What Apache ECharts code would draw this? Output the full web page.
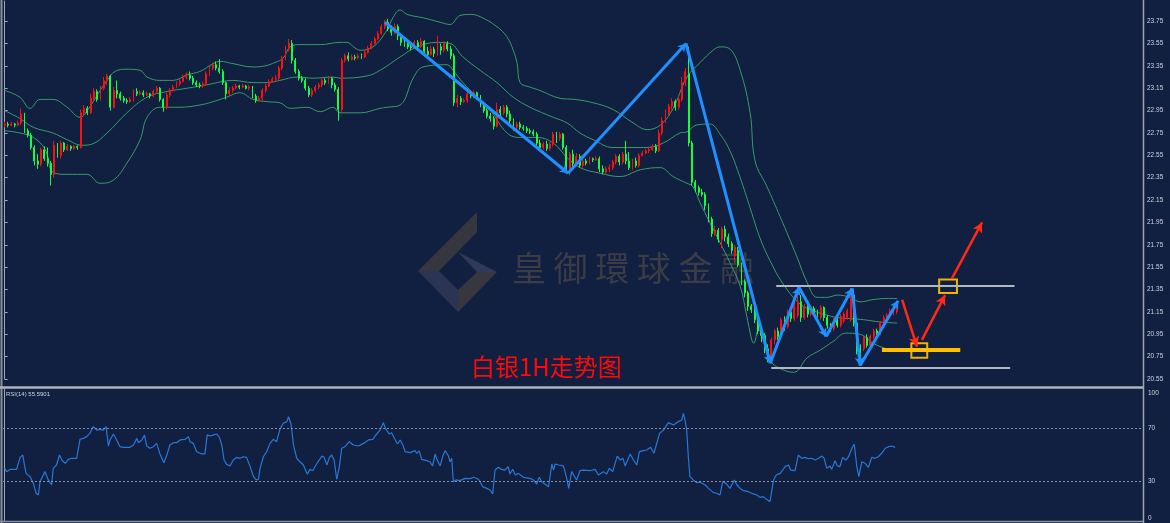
<!DOCTYPE html>
<html>
<head>
<meta charset="utf-8">
<script src="https://cdn.jsdelivr.net/npm/echarts@6/dist/echarts.min.js"></script>
<style>
html,body{margin:0;padding:0;background:#111f40;}
#c{width:1170px;height:523px;}
</style>
</head>
<body>
<div id="c"></div>
<script>
// ---------- DATA ----------
const slotCount = 345; // hourly slots on the time axis (incl. empty right margin)
const priceTicks = { min: 20.55, max: 23.93, step: 0.2 };
const rsiTicks = [0, 30, 70, 100];
const rsiLevels = [70, 30];
const currentPrice = 21.17;
const rsiTitle = 'RSI(14) 55.5901';
const chartTitle = '白银1H走势图';
const watermarkChars = ['皇','御','環','球','金','融'];

// OHLC as [open, close, low, high]
const candles = [
[22.82,22.83,22.80,22.85],[22.83,22.82,22.80,22.85],[22.82,22.83,22.81,22.85],[22.83,22.82,22.80,22.84],[22.82,22.84,22.81,22.86],
[22.84,22.92,22.82,22.97],[22.91,22.77,22.75,22.93],[22.77,22.73,22.71,22.79],[22.73,22.62,22.60,22.75],[22.62,22.50,22.46,22.64],
[22.50,22.47,22.43,22.56],[22.47,22.60,22.45,22.62],[22.60,22.52,22.50,22.63],[22.52,22.48,22.45,22.62],[22.48,22.38,22.28,22.50],
[22.38,22.64,22.35,22.68],[22.64,22.55,22.53,22.66],[22.55,22.66,22.52,22.68],[22.66,22.60,22.58,22.67],[22.60,22.63,22.59,22.65],
[22.63,22.61,22.59,22.64],[22.61,22.63,22.60,22.64],[22.63,22.62,22.60,22.64],[22.62,22.93,22.61,22.96],[22.93,22.97,22.90,23.00],
[22.97,22.93,22.91,22.99],[22.93,23.06,22.92,23.10],[23.06,23.12,23.04,23.15],[23.12,23.05,23.03,23.14],[23.05,23.15,23.04,23.17],
[23.15,23.22,23.13,23.25],[23.22,23.26,23.18,23.28],[23.26,22.98,22.95,23.27],[22.98,23.13,22.97,23.16],[23.13,23.10,23.06,23.22],
[23.10,23.06,23.04,23.12],[23.06,23.04,23.02,23.08],[23.04,23.03,23.01,23.06],[23.03,23.05,23.02,23.07],[23.05,23.12,23.03,23.14],
[23.12,23.10,23.08,23.15],[23.10,23.11,23.09,23.13],[23.11,23.09,23.07,23.13],[23.09,23.10,23.08,23.12],[23.10,23.08,23.06,23.11],
[23.08,23.12,23.07,23.14],[23.12,23.15,23.10,23.17],[23.15,23.05,23.03,23.16],[23.05,22.98,22.94,23.06],[22.98,23.09,22.96,23.11],
[23.09,23.13,23.07,23.15],[23.13,23.16,23.12,23.18],[23.16,23.19,23.15,23.21],[23.19,23.21,23.17,23.23],[23.21,23.25,23.20,23.27],
[23.25,23.27,23.23,23.29],[23.27,23.24,23.22,23.30],[23.24,23.20,23.18,23.26],[23.20,23.18,23.16,23.22],[23.18,23.17,23.15,23.20],
[23.17,23.19,23.15,23.21],[23.19,23.28,23.17,23.30],[23.28,23.33,23.26,23.35],[23.33,23.36,23.31,23.38],[23.36,23.33,23.31,23.39],
[23.33,23.30,23.28,23.41],[23.30,23.20,23.18,23.32],[23.20,23.10,23.05,23.21],[23.10,23.13,23.08,23.16],[23.13,23.15,23.11,23.17],
[23.15,23.17,23.14,23.19],[23.17,23.16,23.14,23.18],[23.16,23.17,23.15,23.19],[23.17,23.15,23.14,23.18],[23.15,23.16,23.13,23.18],
[23.16,23.08,23.06,23.17],[23.08,23.04,23.02,23.10],[23.04,23.06,23.03,23.08],[23.06,23.13,23.04,23.15],[23.13,23.17,23.11,23.19],
[23.17,23.21,23.16,23.23],[23.21,23.23,23.20,23.25],[23.23,23.24,23.21,23.27],[23.24,23.33,23.22,23.35],[23.33,23.42,23.31,23.44],
[23.42,23.50,23.40,23.53],[23.50,23.55,23.48,23.59],[23.55,23.40,23.37,23.58],[23.40,23.30,23.28,23.42],[23.30,23.24,23.22,23.32],
[23.24,23.22,23.20,23.26],[23.22,23.15,23.13,23.24],[23.15,23.09,23.07,23.17],[23.09,23.13,23.07,23.15],[23.13,23.16,23.11,23.18],
[23.16,23.18,23.14,23.20],[23.18,23.22,23.16,23.24],[23.22,23.20,23.18,23.24],[23.20,23.24,23.19,23.26],[23.24,23.18,23.15,23.25],
[23.18,23.14,23.12,23.20],[23.14,22.96,22.86,23.16],[22.96,23.40,22.94,23.42],[23.40,23.44,23.38,23.46],[23.44,23.41,23.39,23.47],
[23.41,23.43,23.40,23.45],[23.43,23.42,23.40,23.45],[23.42,23.44,23.41,23.46],[23.44,23.43,23.41,23.46],[23.43,23.47,23.42,23.49],
[23.47,23.51,23.46,23.53],[23.51,23.55,23.50,23.57],[23.55,23.59,23.54,23.61],[23.59,23.64,23.58,23.66],[23.64,23.70,23.63,23.72],
[23.70,23.74,23.68,23.76],[23.74,23.68,23.66,23.77],[23.68,23.65,23.62,23.71],[23.65,23.70,23.63,23.73],[23.70,23.62,23.58,23.72],
[23.62,23.56,23.53,23.64],[23.56,23.55,23.52,23.60],[23.55,23.52,23.50,23.57],[23.52,23.51,23.49,23.54],[23.51,23.56,23.50,23.58],
[23.56,23.52,23.50,23.58],[23.52,23.57,23.51,23.60],[23.57,23.48,23.46,23.58],[23.48,23.45,23.42,23.52],[23.45,23.50,23.44,23.53],
[23.50,23.46,23.43,23.52],[23.46,23.52,23.44,23.62],[23.52,23.49,23.45,23.55],[23.49,23.55,23.47,23.57],[23.55,23.50,23.48,23.57],
[23.50,23.44,23.41,23.53],[23.44,23.02,22.99,23.46],[23.02,23.06,22.98,23.09],[23.06,23.03,23.00,23.08],[23.03,23.04,23.02,23.06],
[23.04,23.10,23.02,23.12],[23.10,23.08,23.06,23.12],[23.08,23.11,23.06,23.13],[23.11,23.07,23.05,23.12],[23.07,23.00,22.98,23.09],
[23.00,22.95,22.93,23.03],[22.95,22.90,22.88,22.97],[22.90,22.88,22.85,22.93],[22.88,22.81,22.78,22.90],[22.81,22.96,22.80,23.02],
[22.96,22.93,22.90,22.99],[22.93,22.98,22.91,23.00],[22.98,22.92,22.89,23.00],[22.92,22.86,22.84,22.95],[22.86,22.80,22.77,22.88],
[22.80,22.83,22.78,22.85],[22.83,22.80,22.78,22.85],[22.80,22.79,22.77,22.82],[22.79,22.77,22.75,22.81],[22.77,22.76,22.74,22.79],
[22.76,22.74,22.72,22.78],[22.74,22.66,22.64,22.76],[22.66,22.62,22.60,22.69],[22.62,22.65,22.60,22.67],[22.65,22.61,22.59,22.68],
[22.61,22.65,22.59,22.67],[22.65,22.74,22.63,22.76],[22.74,22.70,22.66,22.76],[22.70,22.74,22.68,22.76],[22.74,22.62,22.60,22.75],
[22.62,22.42,22.39,22.64],[22.42,22.56,22.37,22.58],[22.56,22.48,22.45,22.60],[22.48,22.54,22.46,22.57],[22.54,22.46,22.44,22.56],
[22.46,22.50,22.44,22.52],[22.50,22.48,22.46,22.52],[22.48,22.52,22.47,22.54],[22.52,22.51,22.49,22.53],[22.51,22.52,22.50,22.54],
[22.52,22.43,22.40,22.54],[22.43,22.40,22.38,22.46],[22.40,22.43,22.38,22.45],[22.43,22.44,22.40,22.47],[22.44,22.49,22.42,22.51],
[22.49,22.54,22.47,22.56],[22.54,22.49,22.46,22.56],[22.49,22.56,22.47,22.58],[22.56,22.50,22.47,22.68],[22.50,22.44,22.42,22.58],
[22.44,22.50,22.42,22.52],[22.50,22.46,22.44,22.53],[22.46,22.55,22.44,22.57],[22.55,22.57,22.54,22.59],[22.57,22.59,22.56,22.61],
[22.59,22.60,22.57,22.62],[22.60,22.63,22.59,22.65],[22.63,22.59,22.57,22.65],[22.59,22.75,22.58,22.78],[22.75,22.86,22.73,22.89],
[22.86,22.93,22.84,22.96],[22.93,22.99,22.91,23.01],[22.99,23.03,22.96,23.06],[23.03,22.98,22.95,23.05],[22.98,23.05,22.96,23.08],
[23.05,23.20,23.03,23.25],[23.20,23.30,23.17,23.33],[23.28,22.66,22.63,23.52],[22.66,22.31,22.28,22.68],[22.31,22.26,22.22,22.33],
[22.26,22.22,22.19,22.28],[22.22,22.20,22.18,22.25],[22.20,22.10,22.06,22.22],[22.10,21.98,21.95,22.12],[21.98,21.85,21.82,22.00],
[21.85,21.88,21.83,21.92],[21.88,21.80,21.77,21.90],[21.80,21.89,21.72,21.91],[21.89,21.82,21.78,21.92],[21.82,21.76,21.73,21.85],
[21.76,21.70,21.67,21.78],[21.65,21.73,21.60,21.75],[21.70,21.57,21.55,21.73],[21.57,21.42,21.39,21.59],[21.42,21.32,21.28,21.44],
[21.32,21.20,21.16,21.34],[21.20,21.17,21.14,21.22],[21.17,21.08,21.05,21.19],[21.08,20.98,20.95,21.10],[20.98,20.94,20.88,21.02],
[20.94,20.82,20.78,20.96],[20.82,20.74,20.70,20.86],[20.74,20.90,20.69,20.92],[20.90,20.98,20.86,21.00],[20.98,20.93,20.90,21.01],
[20.95,21.08,20.91,21.10],[21.08,21.02,20.98,21.11],[21.02,21.15,21.00,21.17],[21.15,21.09,21.06,21.18],[21.09,21.22,21.07,21.24],
[21.12,21.24,21.10,21.38],[21.24,21.10,21.06,21.30],[21.10,21.20,21.08,21.22],[21.20,21.13,21.10,21.22],[21.13,21.18,21.11,21.20],
[21.18,21.14,21.12,21.20],[21.14,21.12,21.10,21.17],[21.10,21.19,21.08,21.21],[21.19,21.10,21.07,21.20],[21.10,21.03,21.00,21.12],
[21.03,21.00,20.97,21.05],[21.00,21.08,20.98,21.10],[21.08,21.03,21.01,21.11],[21.03,21.11,21.01,21.13],[21.07,21.13,21.05,21.15],
[21.10,21.16,21.08,21.18],[21.08,21.32,21.06,21.36],[21.30,21.05,21.02,21.33],[21.05,20.80,20.77,21.07],[20.80,20.78,20.67,20.86],
[20.82,20.92,20.80,20.94],[20.92,20.85,20.83,20.95],[20.85,20.93,20.82,20.95],[20.93,20.98,20.91,21.00],[20.98,20.96,20.94,21.00],
[20.96,21.05,20.94,21.07],[21.05,21.10,21.03,21.12],[21.10,21.12,21.08,21.14],[21.12,21.16,21.10,21.18],[21.14,21.17,21.12,21.20],
[21.15,21.17,21.13,21.19]
];

// Bollinger bands: [slot, price]
const bbUpper = [[0,23.13],[4.6,23.07],[7.7,22.97],[10.7,23.05],[14.6,23.05],[18.9,22.98],[22.8,22.89],[25,22.95],[28.9,23.13],[31,23.22],[33.4,23.30],[37,23.32],[41,23.31],[43.1,23.25],[47,23.22],[51,23.22],[55.2,23.27],[59.1,23.30],[63.1,23.37],[65.2,23.39],[69.1,23.37],[75.2,23.34],[78.8,23.35],[81.8,23.38],[84.3,23.42],[86.4,23.52],[89.4,23.54],[95.5,23.54],[101.5,23.56],[103.6,23.56],[106,23.51],[107.6,23.49],[111.5,23.52],[115.7,23.67],[117.5,23.78],[119.7,23.85],[121.8,23.81],[126.6,23.78],[131.8,23.74],[134.8,23.72],[137.8,23.80],[140.9,23.81],[143.9,23.79],[149,23.70],[152,23.61],[153.9,23.49],[155.1,23.37],[156,23.20],[159,23.16],[162,23.13],[168.1,23.06],[172.6,23.05],[178.1,23.02],[184.1,22.96],[190.2,22.84],[194.4,22.78],[198.4,22.82],[202.3,22.97],[206.5,23.25],[210.5,23.38],[214.4,23.49],[216.5,23.52],[219.5,23.50],[222.6,23.31],[225.6,22.93],[227.1,22.50],[230.7,22.27],[234.7,22.00],[239.8,21.64],[242.9,21.41],[245.9,21.28],[248.9,21.28],[252,21.30],[255.9,21.28],[258.9,21.24],[262.8,21.26],[267,21.27],[270.1,21.27]];
const bbMiddle = [[0,22.95],[4.6,22.88],[8.7,22.80],[14.6,22.75],[18.9,22.69],[23.4,22.64],[26.4,22.65],[31,22.75],[37,22.93],[43.1,23.07],[49,23.12],[55.2,23.15],[61.1,23.18],[66,23.21],[69.1,23.22],[75.2,23.20],[79.4,23.20],[83.3,23.22],[88.5,23.25],[93.3,23.24],[99.4,23.25],[101.5,23.24],[109.7,23.26],[113.6,23.31],[119.7,23.43],[124.8,23.52],[130.9,23.56],[134.8,23.55],[138.7,23.43],[143.9,23.31],[149,23.20],[153.9,23.07],[159,22.98],[166,22.89],[170.2,22.84],[174.1,22.75],[178.1,22.69],[184.1,22.62],[190.2,22.62],[194.4,22.62],[199.3,22.66],[204.4,22.75],[206.5,22.76],[209.3,22.82],[213.4,22.83],[216.5,22.74],[219.5,22.59],[222.6,22.35],[225.6,22.08],[228.6,21.81],[231.6,21.61],[235.6,21.40],[240.7,21.22],[244.8,21.16],[247.8,21.13],[252,21.10],[256,21.09],[260,21.08],[265,21.06],[270.1,21.05]];
const bbLower = [[0,22.77],[4.6,22.75],[8.7,22.71],[12.3,22.60],[14.6,22.40],[18.9,22.38],[24.9,22.38],[28.9,22.30],[33,22.33],[37,22.48],[41,22.69],[43.1,22.89],[47,22.98],[53.1,22.98],[59.1,23.00],[63.1,23.03],[67.2,23.07],[71.2,23.11],[75.2,23.05],[79.4,23.03],[83.3,23.02],[86.4,22.97],[91.5,22.98],[95.5,22.94],[99.4,22.98],[101.5,22.93],[107.6,22.93],[113.6,22.97],[115.7,22.98],[119.7,23.00],[123.8,23.25],[126.6,23.34],[133.9,23.36],[135.7,23.31],[138.7,23.20],[143,23.07],[146.9,22.96],[152,22.75],[156,22.71],[161.1,22.71],[166,22.66],[170.2,22.53],[174.1,22.44],[180.2,22.39],[186.2,22.36],[192.3,22.42],[198.4,22.44],[202.3,22.36],[206.5,22.30],[208.3,22.27],[210.4,22.13],[213.4,21.95],[216.5,21.77],[219.5,21.59],[222.6,21.38],[224.4,21.14],[226.1,20.90],[226.7,20.87],[228.2,20.99],[229.7,20.93],[231.8,20.72],[233.6,20.66],[238.8,20.61],[242.9,20.74],[246.9,20.81],[250.9,20.89],[254.5,20.96],[258.9,20.95],[262.8,20.87],[267,20.82],[270.1,20.81]];

// RSI(14): [slot, value]
const rsi = [[0,39.9],[0.6,37.4],[1.6,39.1],[3.6,39.1],[4.1,39.9],[4.7,48.2],[5.5,50.0],[5.9,43.7],[6.5,36.1],[7.7,33.6],[8.7,28.5],[9.5,21.0],[10.2,19.7],[10.7,29.8],[11.2,31.1],[12.2,37.4],[13.2,31.1],[14.2,27.3],[14.7,39.9],[15.7,42.4],[16.6,50.0],[17.3,46.2],[18.3,43.7],[19.3,46.7],[20.3,47.5],[21.8,47.5],[22.8,61.9],[23.8,62.6],[24.8,63.9],[25.8,66.4],[26.8,71.5],[27.9,68.9],[28.9,69.4],[29.9,68.9],[30.7,71.5],[31.4,56.8],[31.9,61.4],[32.9,65.9],[33.9,61.4],[34.9,56.3],[35.9,55.8],[37.9,55.8],[39.0,57.6],[40.0,62.6],[40.5,59.3],[41.5,61.4],[42.3,65.2],[43.0,56.8],[44.0,55.1],[45.0,56.3],[46.0,58.8],[47.0,50.8],[48.2,44.2],[49.0,49.2],[50.0,57.6],[51.1,59.3],[52.1,59.3],[53.1,61.4],[54.6,61.9],[55.6,63.9],[56.1,60.1],[57.1,58.8],[58.1,52.5],[59.6,50.8],[60.6,50.8],[61.3,65.2],[62.2,64.4],[63.2,65.2],[64.2,65.9],[65.0,63.4],[65.7,57.6],[66.4,46.2],[67.2,42.9],[68.2,41.7],[69.2,46.2],[70.2,48.2],[71.2,47.5],[72.2,48.7],[73.2,48.2],[74.3,41.2],[75.3,33.6],[76.1,31.1],[76.8,31.6],[77.3,39.9],[78.3,48.7],[79.3,52.5],[80.3,58.8],[81.3,61.9],[82.3,60.1],[83.3,69.4],[84.3,74.0],[85.4,75.3],[85.9,79.0],[86.6,74.0],[86.9,68.9],[87.4,57.6],[88.4,47.5],[89.4,44.9],
[90.4,42.4],[91.6,35.4],[92.4,39.1],[93.2,38.1],[94.4,43.2],[96.0,49.2],[96.7,48.2],[97.5,42.4],[98.3,48.2],[99.0,50.0],[99.7,46.2],[100.5,31.6],[101.3,41.2],[102.0,55.1],[103.0,56.3],[104.3,60.1],[105.5,57.6],[107.1,56.8],[108.6,58.8],[110.1,61.4],[111.4,61.9],[112.1,64.4],[113.6,68.9],[114.6,74.5],[115.4,69.4],[116.4,65.9],[117.1,66.9],[118.2,61.4],[118.9,58.3],[119.7,61.4],[120.5,57.6],[121.2,52.5],[122.7,51.8],[124.2,53.3],[124.7,51.3],[125.5,53.0],[126.2,46.7],[127.7,45.7],[128.7,44.9],[129.5,41.7],[130.3,50.8],[130.8,46.7],[131.8,41.7],[132.6,49.2],[133.3,53.3],[134.3,49.2],[134.8,44.9],[135.3,47.5],[135.8,29.8],[136.6,31.1],[137.8,30.6],[139.3,32.3],[140.9,32.1],[141.9,33.1],[143.4,31.6],[144.7,26.0],[145.9,24.7],[146.9,23.5],[147.7,20.5],[148.4,38.6],[149.4,40.7],[150.4,39.1],[151.4,38.6],[152.4,41.2],[152.9,35.6],[153.8,39.1],[154.5,34.8],[155.5,36.1],[157.0,33.1],[159.0,32.3],[160.0,31.1],[161.0,28.0],[161.8,33.1],[162.5,29.8],[163.5,28.0],[164.6,26.0],[165.1,26.5],[165.6,43.2],[166.1,38.6],[166.6,43.2],[167.6,42.4],[169.1,41.7],[170.1,32.3],[170.7,24.7],[171.6,37.4],[172.6,33.1],[173.1,31.1],[174.1,38.1],[175.1,38.6],[177.2,38.1],[178.7,39.1],[179.7,34.8],[180.2,33.6],
[181.2,37.4],[182.2,35.6],[183.0,39.9],[184.0,37.4],[185.4,49.2],[186.3,46.2],[187.1,47.5],[187.8,41.7],[189.3,50.8],[190.3,46.2],[191.3,42.4],[192.1,52.5],[193.3,53.3],[194.3,53.8],[195.5,55.8],[196.5,51.3],[198.2,66.4],[199.4,68.9],[200.9,74.5],[202.4,72.7],[203.9,75.3],[204.9,76.5],[205.4,81.6],[205.9,76.5],[206.4,68.9],[206.9,48.7],[207.4,33.6],[208.4,31.1],[209.5,29.0],[210.5,29.3],[212.0,27.3],[213.0,24.7],[214.5,21.5],[215.5,21.0],[216.5,19.7],[217.3,29.8],[218.3,28.5],[219.5,24.7],[220.8,31.1],[221.6,27.3],[222.6,24.7],[223.6,23.0],[225.1,22.2],[226.6,20.5],[227.6,19.7],[228.6,17.9],[229.6,18.4],[230.6,16.4],[231.6,14.6],[232.2,14.6],[232.7,31.1],[233.5,34.8],[234.7,36.1],[236.2,41.2],[237.2,42.4],[237.9,38.6],[239.2,38.1],[240.2,50.0],[241.2,47.5],[242.2,48.2],[243.2,47.2],[244.2,47.5],[245.3,46.2],[246.3,47.5],[247.3,49.2],[248.0,47.5],[248.8,39.9],[249.8,41.7],[250.3,39.1],[251.3,45.7],[252.0,41.7],[252.8,41.2],[253.6,48.2],[254.6,46.2],[255.4,48.7],[256.4,55.1],[257.1,58.3],[257.9,41.2],[258.5,33.6],[259.4,44.9],[260.4,43.7],[261.4,40.7],[262.4,48.2],[263.4,47.5],[264.4,48.7],[265.4,51.3],[266.5,55.1],[267.5,56.3],[268.5,56.8],[269.5,55.8]];

// Drawn annotations, in [slot, price]
const zigzag = [[115.1,23.74],[170.5,22.39],[206.2,23.55],[231.7,20.69],[240.4,21.37],[248.6,20.93],[256.5,21.36],[258.9,20.67],[270.4,21.25]];
const forecastArrows = [[[271.6,21.26],[276.1,20.84]],[[277.6,20.90],[284.6,21.30]],[[286.7,21.45],[295.8,21.95]]];
const rangeLines = [[[233.5,21.38],[305.6,21.38]],[[232.0,20.65],[304.3,20.65]]];
const supportLine = [[265.5,20.81],[289.2,20.81]];
const targetBoxes = [[[274.4,20.87],[279.2,20.74]],[[282.8,21.44],[288.2,21.32]]];

// ---------- CHART ----------
const chart = echarts.init(document.getElementById('c'), null, {renderer: 'canvas'});
const cats = Array.from({length: slotCount}, (_, i) => String(i));
const bandColor = '#3b9a6b';
const axisGray = '#9ea4b0';
const labelColor = '#cfd3dc';

function segs(points) {
  const out = [];
  for (let i = 0; i < points.length - 1; i++) out.push([{coord: points[i]}, {coord: points[i + 1]}]);
  return out;
}

const option = {
  backgroundColor: '#111f40',
  animation: false,
  grid: [
    {left: 3, right: 27, top: 1, height: 378},
    {left: 3, right: 27, top: 389, height: 132}
  ],
  xAxis: [
    {type: 'category', data: cats, gridIndex: 0, show: false, boundaryGap: true},
    {type: 'value', gridIndex: 0, min: -0.5, max: slotCount - 0.5, show: false},
    {type: 'value', gridIndex: 1, min: -0.5, max: slotCount - 0.5, show: false}
  ],
  yAxis: [
    {type: 'value', gridIndex: 0, position: 'right', min: priceTicks.min, max: priceTicks.max, interval: priceTicks.step, scale: true,
     splitLine: {show: false},
     axisLine: {show: true, lineStyle: {color: axisGray, width: 1}},
     axisTick: {show: true, length: 3, lineStyle: {color: axisGray}},
     axisLabel: {color: labelColor, fontSize: 6.5, fontFamily: 'Liberation Sans', margin: 4, showMaxLabel: false,
       formatter: v => v.toFixed(2)}},
    {type: 'value', gridIndex: 1, position: 'right', min: 0, max: 100, interval: 10,
     splitLine: {show: false},
     axisLine: {show: true, lineStyle: {color: axisGray, width: 1}},
     axisTick: {show: false},
     axisLabel: {color: labelColor, fontSize: 6.5, fontFamily: 'Liberation Sans', margin: 5,
       formatter: v => v === 100 ? '{t|100}' : v === 0 ? '{b|0}' : (rsiTicks.indexOf(v) >= 0 ? String(v) : ''),
       rich: {t: {padding: [8, 0, 0, 0], fontSize: 6.5, color: labelColor}, b: {padding: [0, 0, 6, 0], fontSize: 6.5, color: labelColor}}}}
  ],
  series: [
    {type: 'line', xAxisIndex: 1, yAxisIndex: 0, data: bbUpper, smooth: 0.4, symbol: 'none', lineStyle: {color: bandColor, width: 1}, silent: true, z: 1},
    {type: 'line', xAxisIndex: 1, yAxisIndex: 0, data: bbMiddle, smooth: 0.4, symbol: 'none', lineStyle: {color: bandColor, width: 1}, silent: true, z: 1},
    {type: 'line', xAxisIndex: 1, yAxisIndex: 0, data: bbLower, smooth: 0.4, symbol: 'none', lineStyle: {color: bandColor, width: 1}, silent: true, z: 1},
    {type: 'candlestick', xAxisIndex: 0, yAxisIndex: 0, data: candles, barWidth: 1.4, z: 3,
     itemStyle: {color: '#ff1010', color0: '#10ff40', borderColor: '#ff1010', borderColor0: '#10ff40', borderWidth: 1}},
    {type: 'line', xAxisIndex: 1, yAxisIndex: 0, data: [], symbol: 'none', z: 5,
     markLine: {silent: true, symbol: ['none', 'none'], label: {show: false}, animation: false,
       data: [
         ...rangeLines.map(s => [{coord: s[0], lineStyle: {color: '#b3b7c2', width: 2, type: 'solid'}}, {coord: s[1]}]),
         [{coord: supportLine[0], lineStyle: {color: '#ffbf00', width: 4, type: 'solid'}}, {coord: supportLine[1]}],
         [{yAxis: currentPrice, lineStyle: {opacity: 0}, label: {show: true, position: 'end', distance: 3, formatter: currentPrice.toFixed(2), color: '#000', backgroundColor: '#ffffff', padding: [1, 2, 0, 2], fontSize: 6.5, fontFamily: 'Liberation Sans'}}, {yAxis: currentPrice}]
       ]},
     markArea: {silent: true, itemStyle: {color: 'rgba(0,0,0,0)', borderColor: '#f2b200', borderWidth: 2},
       data: targetBoxes.map(b => [{coord: b[0]}, {coord: b[1]}])}},
    {type: 'line', xAxisIndex: 1, yAxisIndex: 0, data: [], symbol: 'none', z: 6,
     markLine: {silent: true, symbol: ['none', 'arrow'], symbolSize: [7, 8], label: {show: false}, animation: false,
       lineStyle: {color: '#1e90ff', width: 3, type: 'solid'},
       data: segs(zigzag)}},
    {type: 'line', xAxisIndex: 1, yAxisIndex: 0, data: [], symbol: 'none', z: 6,
     markLine: {silent: true, symbol: ['none', 'arrow'], symbolSize: [8, 10], label: {show: false}, animation: false,
       lineStyle: {color: '#ff2a16', width: 2.5, type: 'solid'},
       data: forecastArrows.map(s => [{coord: s[0]}, {coord: s[1]}])}},
    {type: 'line', xAxisIndex: 2, yAxisIndex: 1, data: rsi, symbol: 'none', lineStyle: {color: '#2a78d6', width: 1.2}, silent: true,
     markLine: {silent: true, symbol: ['none', 'none'], label: {show: false}, animation: false,
       lineStyle: {color: '#8790a8', width: 1, type: [2, 2]},
       data: rsiLevels.map(v => ({yAxis: v}))}}
  ],
  graphic: [
    {type: 'line', shape: {x1: 1.5, y1: 0, x2: 1.5, y2: 523}, style: {stroke: '#8a909c', lineWidth: 2}, z: 10, silent: true},
    {type: 'line', shape: {x1: 0, y1: 387.5, x2: 1144, y2: 387.5}, style: {stroke: '#aeb3bd', lineWidth: 2.5}, z: 10, silent: true},
    {type: 'line', shape: {x1: 0, y1: 521.5, x2: 1144, y2: 521.5}, style: {stroke: '#8a909c', lineWidth: 1.5}, z: 10, silent: true},
    {type: 'line', shape: {x1: 1143.5, y1: 0, x2: 1143.5, y2: 523}, style: {stroke: axisGray, lineWidth: 1.5}, z: 10, silent: true},
    {type: 'polygon', shape: {points: [[477,212],[477,232],[439,271],[418,271]]}, style: {fill: '#35363e'}, z: 0, silent: true},
    {type: 'polygon', shape: {points: [[418,271],[439,271],[458,290],[458,312]]}, style: {fill: '#2b3553'}, z: 0, silent: true},
    {type: 'polygon', shape: {points: [[458,252],[497,272],[477,272]]}, style: {fill: '#2f3a5b'}, z: 0, silent: true},
    {type: 'polygon', shape: {points: [[477,272],[497,272],[458,312],[458,290]]}, style: {fill: '#37383f'}, z: 0, silent: true},
    ...watermarkChars.map((ch, k) => ({type: 'text', left: 512 + k * 41.6, top: 251, z: 0, silent: true,
      style: {text: ch, fill: '#3b3c46', font: '34px "Noto Sans CJK TC", "Noto Sans CJK SC", sans-serif'}})),
    {type: 'text', left: 471, top: 355, z: 20, silent: true,
     style: {text: chartTitle, fill: '#ff0a0a', font: '24px "Noto Sans CJK SC", sans-serif'}},
    {type: 'text', left: 6, top: 391, z: 20, silent: true,
     style: {text: rsiTitle, fill: '#d0d4dc', font: '6px "Liberation Sans", sans-serif'}}
  ]
};
chart.setOption(option);
</script>
</body>
</html>
